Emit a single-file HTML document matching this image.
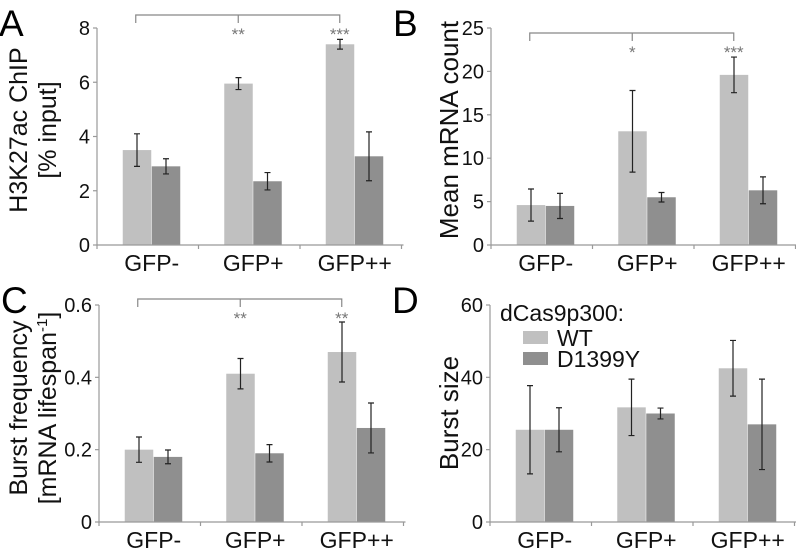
<!DOCTYPE html>
<html><head><meta charset="utf-8"><style>
body{margin:0;background:#fff;}
svg{display:block;font-family:"Liberation Sans","DejaVu Sans",sans-serif;}
</style></head><body>
<svg id="fig" width="796" height="552" viewBox="0 0 796 552"></svg>
<script>
const categories=["GFP-","GFP+","GFP++"];
const aWT=[3.5,5.95,7.4], aWTerr=[0.6,0.22,0.18], aMut=[2.9,2.35,3.27], aMutErr=[0.28,0.32,0.9];
const bWT=[4.6,13.1,19.6], bWTerr=[1.85,4.7,2.05], bMut=[4.5,5.5,6.3], bMutErr=[1.45,0.55,1.55];
const cWT=[0.2,0.41,0.47], cWTerr=[0.035,0.042,0.083], cMut=[0.18,0.19,0.26], cMutErr=[0.019,0.024,0.069];
const dWT=[25.5,31.7,42.5], dWTerr=[12.2,7.8,7.7], dMut=[25.5,30,27], dMutErr=[6.1,1.5,12.5];
const aTicks=["0","2","4","6","8"], bTicks=["0","5","10","15","20","25"], cTicks=["0","0.2","0.4","0.6"], dTicks=["0","20","40","60"];
const aStars=["**","***"], bStars=["*","***"], cStars=["**","**"];
const legendLabels=["WT","D1399Y"];

const NS="http://www.w3.org/2000/svg";
const svg=document.getElementById('fig');
function mk(tag,attrs,parent,text){const e=document.createElementNS(NS,tag);for(const k in attrs)e.setAttribute(k,attrs[k]);if(text!==undefined)e.textContent=text;(parent||svg).appendChild(e);return e;}

function panel(o){
  const g=mk('g',{});
  
  
  const ax=o.x0, y0=o.y0, yt=o.y0-217, cw=101.5;
  const ymax=parseFloat(o.ticks[o.ticks.length-1]);
  const Y=v=>y0-(v/ymax)*(y0-yt);
  const cx=i=>ax+cw*(i+0.5)+4;
  const L=mk('text',{x:o.x0-98,y:o.y0-209,'font-size':37,fill:'#000'},g,o.letter);
  
  
  const series=[[o.wt,o.wtE,'#c0c0c0',-29],[o.mut,o.mutE,'#8f8f8f',0]];
  series.forEach((s,si)=>{
    s[0].forEach((v,i)=>{
      const x=cx(i)+s[3];
      const r=mk('rect',{x:x,y:Y(v),width:28.5,height:y0-Y(v),fill:s[2]},g);
      
      
    });
  });
  series.forEach((s,si)=>{
    s[0].forEach((v,i)=>{
      const x=cx(i)+s[3]+14.25, e=s[1][i];
      const eb=mk('path',{d:`M${x},${Y(v+e)}V${Y(v-e)}M${x-3},${Y(v+e)}H${x+3}M${x-3},${Y(v-e)}H${x+3}`,stroke:'#222','stroke-width':1.2,fill:'none'},g);
      
      
    });
  });
  const axl=mk('path',{d:`M${ax},${yt}V${y0}H${ax+cw*3+2}`,stroke:'#999','stroke-width':1.2,fill:'none'},g);
  
  
  o.ticks.forEach(t=>{
    const y=Y(parseFloat(t));
    mk('path',{d:`M${ax-4},${y}H${ax}`,stroke:'#999','stroke-width':1.2},g);
    const tx=mk('text',{x:ax-7,y:y+7,'font-size':20,'text-anchor':'end',fill:'#111'},g,t);
    
    
  });
  for(let i=0;i<=3;i++){mk('path',{d:`M${ax+cw*i},${y0}V${y0+4}`,stroke:'#999','stroke-width':1.2},g);}
  categories.forEach((c,i)=>{
    const t=mk('text',{x:cx(i),y:y0+26,'font-size':23,'text-anchor':'middle',fill:'#111'},g,c);
    
    
  });
  const yg=mk('g',{transform:`translate(${o.ylx},${o.yly}) rotate(-90)`},g);
  
  
  o.ylab.forEach((l,k)=>{
    const t=mk('text',{x:0,y:k*29,'font-size':o.yfs||25,'text-anchor':'middle',fill:'#111'},yg);
    t.innerHTML=l;
  });
  if(o.stars){
    const by=o.brY;
    const br=mk('path',{d:`M${cx(0)-16},${by+8}V${by}H${cx(2)-15}V${by+8}M${cx(1)-15},${by}V${by+8}`,stroke:'#888','stroke-width':1.2,fill:'none'},g);
    
    
    o.stars.forEach((s,k)=>{
      const t=mk('text',{x:cx(k+1)-15,y:by+25,'font-size':17,'text-anchor':'middle',fill:'#777'},g,s);
      
      
    });
  }
  return g;
}
panel({letter:'A',x0:97,y0:245,ticks:aTicks,wt:aWT,wtE:aWTerr,mut:aMut,mutE:aMutErr,ylab:['H3K27ac ChIP','[% input]'],ylx:27,yly:130,stars:aStars,brY:15});
panel({letter:'B',x0:491,y0:245,ticks:bTicks,wt:bWT,wtE:bWTerr,mut:bMut,mutE:bMutErr,ylab:['Mean mRNA count'],ylx:458,yly:130,stars:bStars,brY:33,yfs:26});
panel({letter:'C',x0:99,y0:522,ticks:cTicks,wt:cWT,wtE:cWTerr,mut:cMut,mutE:cMutErr,ylab:['Burst frequency','[mRNA lifespan<tspan font-size="15" dy="-9">-1</tspan><tspan dy="9">]</tspan>'],ylx:27,yly:408,stars:cStars,brY:299});
panel({letter:'D',x0:490,y0:522,ticks:dTicks,wt:dWT,wtE:dWTerr,mut:dMut,mutE:dMutErr,ylab:['Burst size'],ylx:458,yly:413,yfs:26});
const lg=mk('g',{});


mk('text',{x:500,y:321,'font-size':23,fill:'#111'},lg,'dCas9p300:');
legendLabels.forEach((l,k)=>{
  const e=mk('g',{},lg);
  
  
  mk('rect',{x:523,y:331+k*21,width:25,height:13,fill:k?'#8f8f8f':'#c0c0c0'},e);
  mk('text',{x:557,y:346+k*21,'font-size':23,fill:'#111'},e,l);
});
</script>
</body></html>
